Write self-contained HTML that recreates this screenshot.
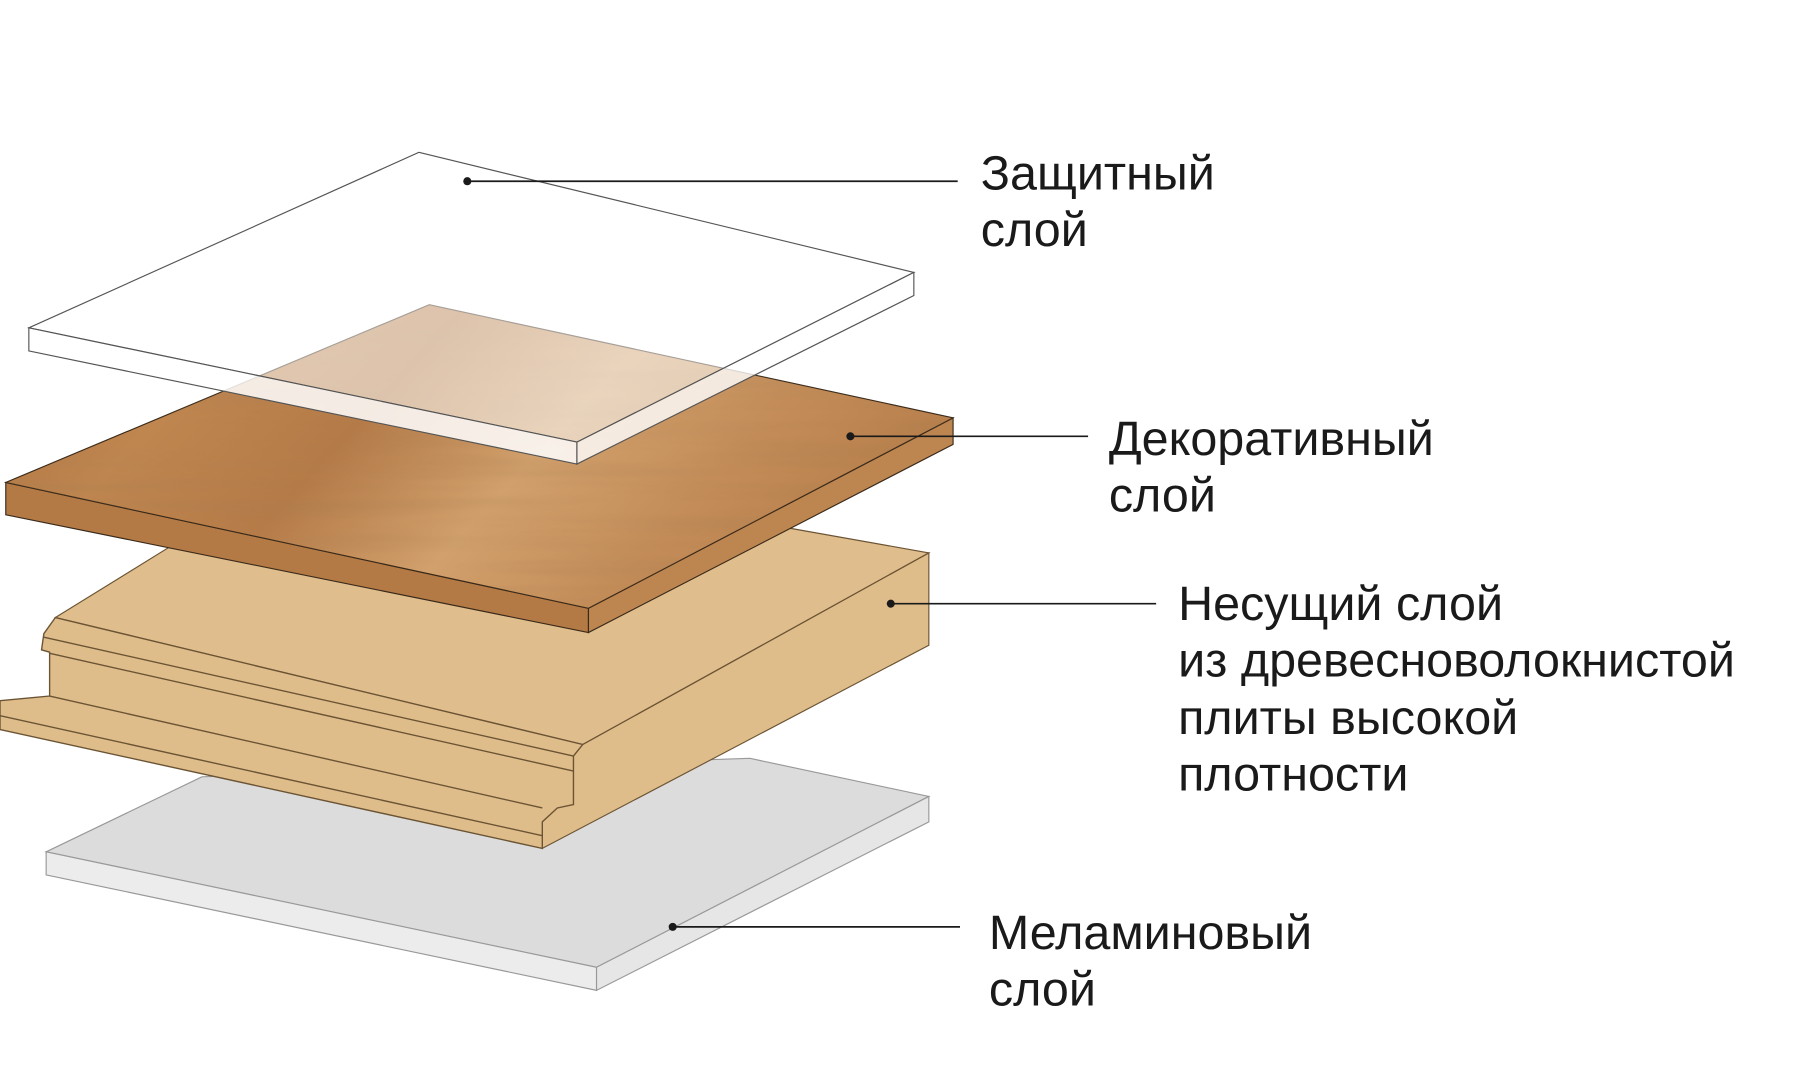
<!DOCTYPE html>
<html><head><meta charset="utf-8">
<style>
html,body{margin:0;padding:0;background:#fff;}
svg{display:block;}
text{font-family:"Liberation Sans",sans-serif;fill:#1a1a1a;font-size:42px;}
</style></head>
<body>
<svg width="1800" height="1070" viewBox="0 0 1560 927" preserveAspectRatio="none" xmlns="http://www.w3.org/2000/svg">
<defs>
<linearGradient id="wood" x1="0" y1="0" x2="1" y2="0.3">
<stop offset="0" stop-color="#a86f3e"/>
<stop offset="0.25" stop-color="#c08650"/>
<stop offset="0.45" stop-color="#b57b48"/>
<stop offset="0.65" stop-color="#d1a06c"/>
<stop offset="0.85" stop-color="#c38c58"/>
<stop offset="1" stop-color="#b9814d"/>
</linearGradient>
<filter id="grain" x="0" y="0" width="1" height="1">
<feTurbulence type="fractalNoise" baseFrequency="0.004 0.06" numOctaves="3" seed="4"/>
<feColorMatrix type="matrix" values="0 0 0 0 0.35  0 0 0 0 0.2  0 0 0 0 0.08  0 0 0 0.9 -0.35"/>
<feComposite in2="SourceGraphic" operator="in"/>
</filter>
</defs>

<!-- Melamine layer -->
<polygon points="175,673 650,657 805,690 517,838 40,738" fill="#dcdcdc" stroke="#999" stroke-width="1"/>
<polygon points="40,738 517,838 517,858 40,758" fill="#ececec" stroke="#999" stroke-width="1"/>
<polygon points="517,838 805,690 805,712 517,858" fill="#e6e6e6" stroke="#999" stroke-width="1"/>

<!-- Core layer -->
<polygon points="494,645 805,479 805,559 470,735 466,700" fill="#dfbd8b" stroke="#6b5434" stroke-width="1"/>
<polygon points="150,472 681,457 805,479 505,645 48,535" fill="#dfbd8c" stroke="#6b5434" stroke-width="1"/>
<polygon points="48,535 505,645 497,655 497,697 483,700 470,712 470,735 0,632 0,607 43,603 43,565 36,563 38,549" fill="#dfbd8b" stroke="#6b5434" stroke-width="1.2"/>
<polyline points="38,552 497,655" fill="none" stroke="#6b5434" stroke-width="1.2"/>
<polyline points="43,566 497,668" fill="none" stroke="#6b5434" stroke-width="1.2"/>
<polyline points="0,620 470,724" fill="none" stroke="#6b5434" stroke-width="1.2"/>
<polyline points="43,603 470,700" fill="none" stroke="#6b5434" stroke-width="1.2"/>
<polyline points="505,645 805,479" fill="none" stroke="#6b5434" stroke-width="1"/>

<!-- Decorative wood layer -->
<polygon points="5,418 510,527 510,548 5,446" fill="#b47a45" stroke="#3a2a1a" stroke-width="1"/>
<polygon points="510,527 826,362 826,385 510,548" fill="#bd8550" stroke="#3a2a1a" stroke-width="1"/>
<polygon points="372,264 826,362 510,527 5,418" fill="url(#wood)" stroke="#3a2a1a" stroke-width="1"/>
<polygon points="372,264 826,362 510,527 5,418" fill="#fff" filter="url(#grain)" opacity="0.45"/>

<!-- Protective glass layer -->
<polygon points="363,132 792,236 500,383 25,284" fill="#fff" fill-opacity="0.55" stroke="#555" stroke-width="1"/>
<polygon points="25,284 500,383 500,402 25,304" fill="#fff" fill-opacity="0.85" stroke="#555" stroke-width="1"/>
<polygon points="500,383 792,236 792,256 500,402" fill="#fff" fill-opacity="0.8" stroke="#555" stroke-width="1"/>

<!-- Leader lines -->
<g stroke="#1a1a1a" stroke-width="1.5">
<line x1="405" y1="157" x2="830" y2="157"/>
<line x1="737" y1="378" x2="943" y2="378"/>
<line x1="772" y1="523" x2="1002" y2="523"/>
<line x1="583" y1="803" x2="832" y2="803"/>
</g>
<g fill="#1a1a1a">
<circle cx="405" cy="157" r="3.5"/>
<circle cx="737" cy="378" r="3.5"/>
<circle cx="772" cy="523" r="3.5"/>
<circle cx="583" cy="803" r="3.5"/>
</g>

<!-- Labels -->
<text x="850" y="164">Защитный</text>
<text x="850" y="213">слой</text>
<text x="961" y="394">Декоративный</text>
<text x="961" y="443">слой</text>
<text x="1021" y="537">Несущий слой</text>
<text x="1021" y="586">из древесноволокнистой</text>
<text x="1021" y="636">плиты высокой</text>
<text x="1021" y="685">плотности</text>
<text x="857" y="822">Меламиновый</text>
<text x="857" y="871">слой</text>
</svg>
</body></html>
